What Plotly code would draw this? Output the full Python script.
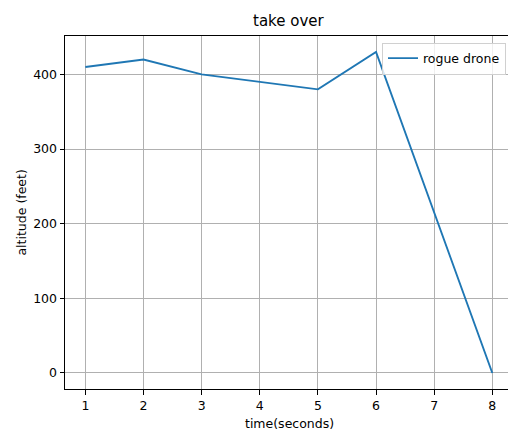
import plotly.graph_objects as go

time_s = [1, 2, 3, 4, 5, 6, 7, 8]
altitude = [410, 420, 400, 390, 380, 430, 215, 0]
series_name = "rogue drone"
title = "take over"
x_label = "time(seconds)"
y_label = "altitude (feet)"

W, H = 508, 430
L, T, B, R = 64.5, 36, 41, 0
pw = W - L - R
ph = H - T - B

def px_x(p):
    return (p - L) / pw

def px_y(p):
    return (H - B - p) / ph

FS = 12.5
font = dict(family="DejaVu Sans", size=FS, color="#000000")

fig = go.Figure()
fig.add_trace(go.Scatter(x=time_s, y=altitude, mode="lines", name=series_name,
                         line=dict(color="#1f77b4", width=1.9)))

fig.update_layout(
    width=W, height=H,
    margin=dict(l=L, r=R, t=T, b=B, autoexpand=False),
    paper_bgcolor="white", plot_bgcolor="white",
    font=font,
    showlegend=True,
    legend=dict(x=px_x(506), y=px_y(42.5), xanchor="right", yanchor="top",
                bordercolor="#d0d0d0", borderwidth=1, bgcolor="rgba(255,255,255,0.8)",
                font=font, itemwidth=30, tracegroupgap=0),
    annotations=[
        dict(text=title, x=px_x(289), y=px_y(21), xref="paper", yref="paper",
             showarrow=False, xanchor="center", yanchor="middle",
             font=dict(family="DejaVu Sans", size=15, color="#000000")),
        dict(text=x_label, x=px_x(289), y=px_y(423), xref="paper", yref="paper",
             showarrow=False, xanchor="center", yanchor="middle", font=font),
        dict(text=y_label, x=px_x(20), y=px_y(213), xref="paper", yref="paper",
             showarrow=False, xanchor="center", yanchor="middle", textangle=-90,
             font=font),
    ],
)

fig.update_xaxes(range=[0.65, 8.27], tickmode="array", tickvals=time_s,
                 ticks="outside", ticklen=4.5, tickcolor="#000000", tickwidth=1,
                 showgrid=True, gridcolor="#b0b0b0", gridwidth=1,
                 showline=True, linecolor="#000000", linewidth=1, mirror=True,
                 zeroline=False, tickfont=font)
fig.update_yaxes(range=[-21.5, 451.5], tickmode="array", tickvals=[0, 100, 200, 300, 400],
                 ticks="outside", ticklen=4.5, tickcolor="#000000", tickwidth=1,
                 showgrid=True, gridcolor="#b0b0b0", gridwidth=1,
                 showline=True, linecolor="#000000", linewidth=1, mirror=False,
                 zeroline=False, tickfont=font)

fig.write_html("out.html", config={"displayModeBar": False},
               post_script="document.body.style.margin='0';document.body.style.overflow='hidden';")
